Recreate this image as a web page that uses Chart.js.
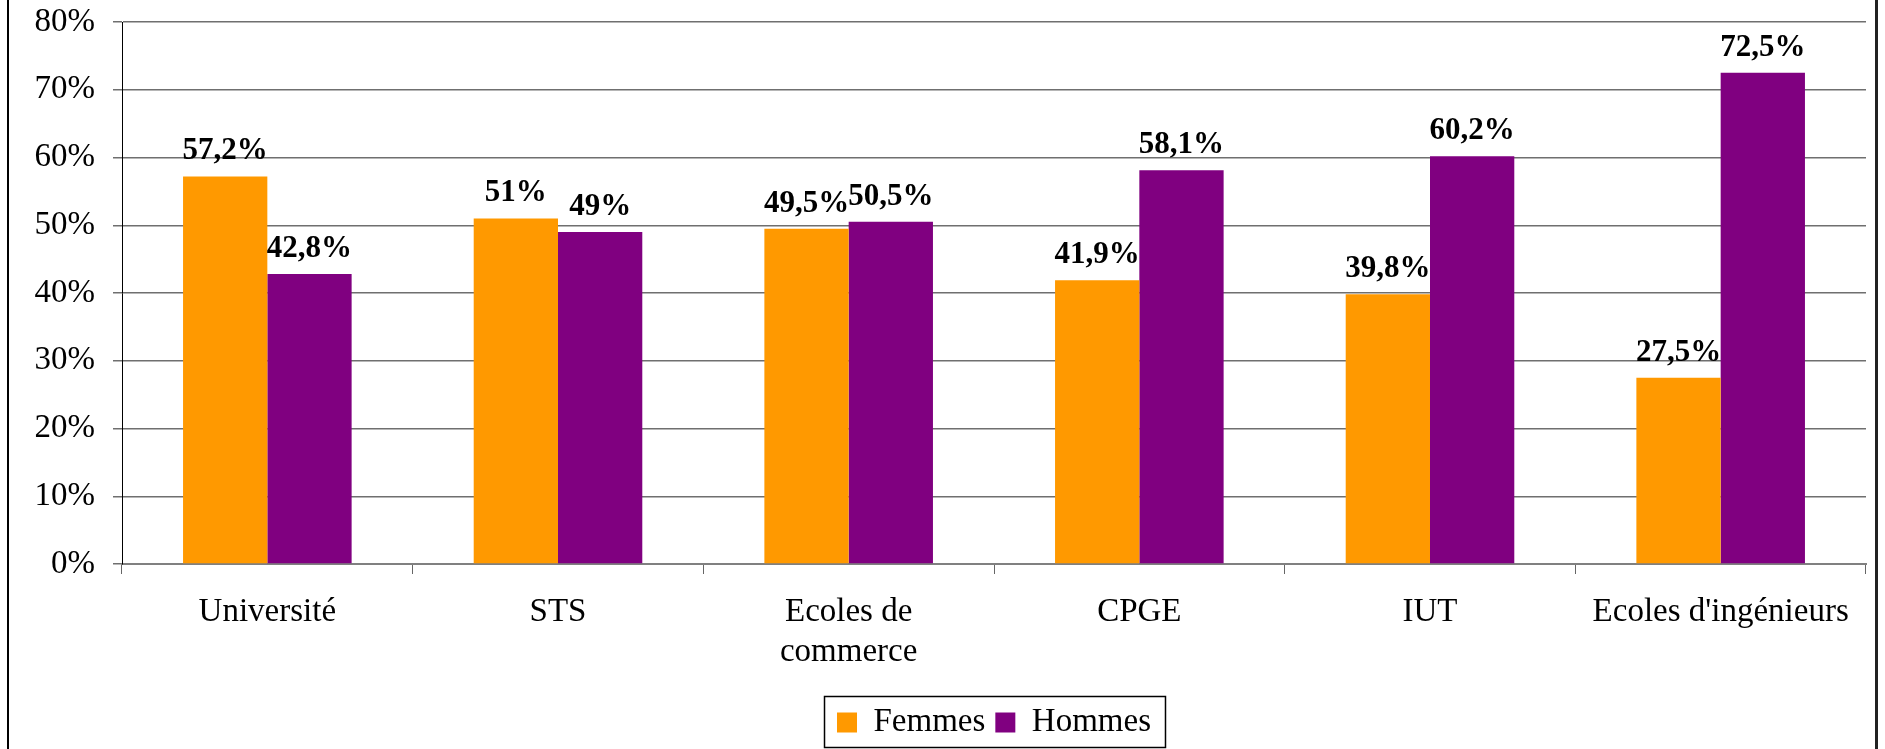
<!DOCTYPE html>
<html>
<head>
<meta charset="utf-8">
<script src="https://cdn.jsdelivr.net/npm/chart.js@4/dist/chart.umd.min.js"></script>
<style>
    body { margin: 0; background: #fff; overflow: hidden; }
    #wrap { position: relative; width: 1885px; height: 749px; }
    #frame { position: absolute; left: 7px; top: 0; width: 1871px; height: 749px;
             border-left: 2px solid #000; border-right: 3px solid #222; box-sizing: border-box; pointer-events: none; }
</style>
</head>
<body>
<div id="wrap">
    <canvas id="studyChart" width="1885" height="749"></canvas>
    <div id="frame"></div>
</div>
<script>
const categories = ['Université', 'STS', ['Ecoles de', 'commerce'], 'CPGE', 'IUT', "Ecoles d'ingénieurs"];
const femmes = [57.2, 51, 49.5, 41.9, 39.8, 27.5];
const hommes = [42.8, 49, 50.5, 58.1, 60.2, 72.5];
const yTicks = [0, 10, 20, 30, 40, 50, 60, 70, 80];

const serif = '"Liberation Serif", "Times New Roman", serif';

// percent values written the French way
const fmt = v => String(v).replace('.', ',') + '%';

// value labels above each bar
const barLabels = {
    id: 'barLabels',
    afterDatasetsDraw(chart) {
        const ctx = chart.ctx;
        ctx.save();
        ctx.font = 'bold 31px ' + serif;
        ctx.fillStyle = '#000';
        ctx.textAlign = 'center';
        ctx.textBaseline = 'alphabetic';
        chart.data.datasets.forEach((ds, i) => {
            chart.getDatasetMeta(i).data.forEach((bar, j) => {
                ctx.fillText(fmt(ds.data[j]), bar.x, bar.y - 17);
            });
        });
        ctx.restore();
    }
};

// frame round the legend
const legendFrame = {
    id: 'legendFrame',
    afterDraw(chart) {
        const boxes = chart.legend.legendHitBoxes;
        if (!boxes || !boxes.length) return;
        const first = boxes[0];
        const last = boxes[boxes.length - 1];
        const mid = first.top + first.height / 2;
        const ctx = chart.ctx;
        ctx.save();
        ctx.strokeStyle = '#000';
        ctx.lineWidth = 1.5;
        ctx.strokeRect(first.left - 12.5, mid - 26, last.left + last.width - first.left + 27, 51);
        ctx.restore();
    }
};

new Chart(document.getElementById('studyChart'), {
    type: 'bar',
    data: {
        labels: categories,
        datasets: [
            { label: 'Femmes', data: femmes, backgroundColor: '#FF9900' },
            { label: 'Hommes', data: hommes, backgroundColor: '#800080' }
        ]
    },
    options: {
        responsive: false,
        animation: false,
        events: [],
        layout: { padding: { top: 22, right: 19, left: 0, bottom: 0 } },
        datasets: { bar: { categoryPercentage: 0.58, barPercentage: 1 } },
        scales: {
            x: {
                afterFit(scale) { scale.height = 132; },
                grid: { offset: true, drawOnChartArea: false, tickLength: 10, color: '#666', lineWidth: 1 },
                border: { color: '#808080', width: 2 },
                ticks: {
                    color: '#000', padding: 19, maxRotation: 0, autoSkip: false,
                    font: { family: serif, size: 33, lineHeight: 1.2 }
                }
            },
            y: {
                min: 0, max: 80,
                afterFit(scale) { scale.width = 122; scale.paddingTop = 0; },
                afterBuildTicks(scale) { scale.ticks = yTicks.map(v => ({ value: v })); },
                grid: { color: '#6f6f6f', lineWidth: 1.5, tickLength: 9 },
                border: { color: '#000', width: 1 },
                ticks: {
                    color: '#000', padding: 18,
                    font: { family: serif, size: 33 },
                    callback: v => v + '%'
                }
            }
        },
        plugins: {
            legend: {
                position: 'bottom',
                fullSize: false,
                labels: {
                    color: '#000', boxWidth: 20, boxHeight: 20, padding: 10,
                    font: { family: serif, size: 33 }
                }
            },
            tooltip: { enabled: false }
        }
    },
    plugins: [barLabels, legendFrame]
});
</script>
</body>
</html>
